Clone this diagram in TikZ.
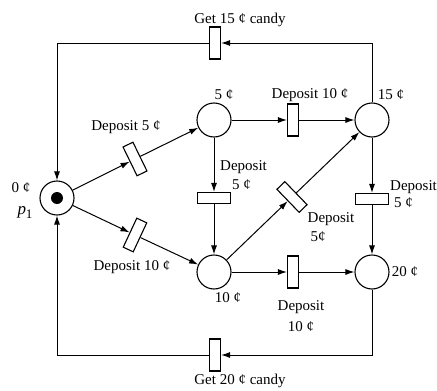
\documentclass[tikz,border=0pt]{standalone}
\usepackage{fontspec}
\setmainfont{Liberation Serif}
\usetikzlibrary{arrows.meta}

\tikzset{
  coinplace/.style={draw, circle, minimum size=34pt, inner sep=0pt, line width=1.1pt},
  cointoken/.style={fill, circle, minimum size=12pt, inner sep=0pt},
  tvert/.style={draw, rectangle, minimum width=11pt, minimum height=32pt, inner sep=0pt, line width=1.1pt, fill=white},
  thoriz/.style={tvert, minimum width=33pt, minimum height=11pt},
  flow/.style={-{Latex[length=9pt,width=6pt]}, line width=1pt},
  lbl/.style={inner sep=0pt, font=\fontsize{15}{17}\selectfont}
}

\begin{document}
\begin{tikzpicture}[x=1pt,y=-1pt]
        \useasboundingbox (0,0) rectangle (437,391);

        % places
        \node[coinplace] (p0) at (57,198) {};
        \node[cointoken] (tok) at (57,198) {};
        \node[coinplace] (p5) at (214,120) {};
        \node[coinplace] (p15) at (372,120) {};
        \node[coinplace] (p10) at (214,272) {};
        \node[coinplace] (p20) at (372,272) {};

        % transitions
        \node[tvert] (tget15) at (215,43) {};
        \node[tvert, rotate=26] (t0to5) at (135,159) {};
        \node[tvert, rotate=-25] (t0to10) at (135,235) {};
        \node[thoriz] (t5to10) at (214,198) {};
        \node[tvert] (t5to15) at (293,120) {};
        \node[tvert, rotate=44] (t10to15) at (292,197) {};
        \node[thoriz] (t15to20) at (372,199) {};
        \node[tvert] (t10to20) at (293,272) {};
        \node[tvert] (tget20) at (215,355) {};

        % arcs
        \draw[flow] (p0) -- (t0to5);
        \draw[flow] (t0to5) -- (p5);
        \draw[flow] (p0) -- (t0to10);
        \draw[flow] (t0to10) -- (p10);
        \draw[flow] (p5) -- (t5to10);
        \draw[flow] (t5to10) -- (p10);
        \draw[flow] (p5) -- (t5to15);
        \draw[flow] (t5to15) -- (p15);
        \draw[flow] (p10) -- (t10to15);
        \draw[flow] (t10to15) -- (p15);
        \draw[flow] (p15) -- (t15to20);
        \draw[flow] (t15to20) -- (p20);
        \draw[flow] (p10) -- (t10to20);
        \draw[flow] (t10to20) -- (p20);
        \draw[flow] (p15) |- (tget15);
        \draw[flow] (tget15) -| (p0);
        \draw[flow] (p20) |- (tget20);
        \draw[flow] (tget20) -| (p0);

        % labels
        \node[lbl] (lget15) at (240,20) {Get 15 ¢ candy};
        \node[lbl] (lget20) at (240,381) {Get 20 ¢ candy};
        \node[lbl] (l0) at (21,188) {0 ¢};
        \node[lbl] (lp1) at (25,212) {\fontsize{17}{19}\selectfont\itshape p\raisebox{-4pt}{\fontsize{13}{15}\selectfont\upshape 1}};
        \node[lbl] (l5) at (224,95) {5 ¢};
        \node[lbl] (l15) at (391,95) {15 ¢};
        \node[lbl] (l10) at (228,298) {10 ¢};
        \node[lbl] (l20) at (405,272) {20 ¢};
        \node[lbl] (ldep0to5) at (126,127) {Deposit 5 ¢};
        \node[lbl] (ldep0to10) at (132,267) {Deposit 10 ¢};
        \node[lbl, anchor=west] (ldep5to10) at (220,167) {Deposit};
        \node[lbl, anchor=west] (lval5to10) at (232,185) {5 ¢};
        \node[lbl] (ldep5to15) at (310,95) {Deposit 10 ¢};
        \node[lbl] (ldep10to15) at (331,219) {Deposit};
        \node[lbl] (lval10to15) at (318,237) {5¢};
        \node[lbl, anchor=west] (ldep15to20) at (390,187) {Deposit};
        \node[lbl, anchor=west] (lval15to20) at (394,203) {5 ¢};
        \node[lbl] (ldep10to20) at (301,307) {Deposit};
        \node[lbl] (lval10to20) at (301,327) {10 ¢};
\end{tikzpicture}
\end{document}
